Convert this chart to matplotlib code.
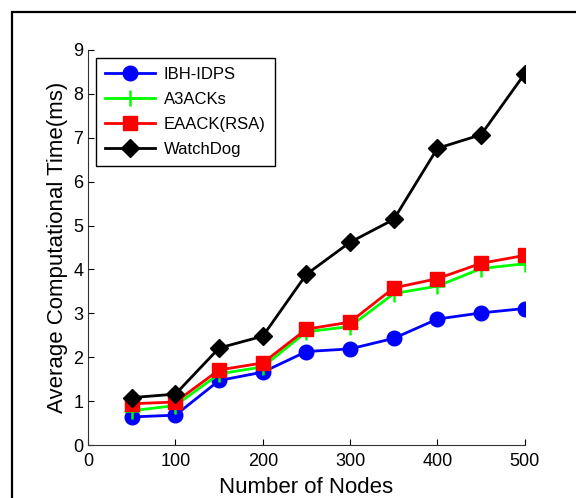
import matplotlib
matplotlib.use("Agg")
import matplotlib.pyplot as plt
from matplotlib.patches import Rectangle

# data
nodes = [50, 100, 150, 200, 250, 300, 350, 400, 450, 500]
ibh_idps = [0.64, 0.68, 1.47, 1.66, 2.13, 2.19, 2.43, 2.87, 3.01, 3.11]
a3acks = [0.78, 0.90, 1.62, 1.78, 2.58, 2.70, 3.45, 3.62, 4.02, 4.13]
eaack_rsa = [0.94, 0.98, 1.71, 1.87, 2.64, 2.80, 3.58, 3.79, 4.14, 4.32]
watchdog = [1.08, 1.16, 2.21, 2.48, 3.89, 4.62, 5.14, 6.76, 7.07, 8.46]

plt.rcParams["font.family"] = ["Liberation Sans", "DejaVu Sans"]

fig = plt.figure(figsize=(5.76, 4.98), dpi=100)
ax = fig.add_axes([0.153, 0.1064, 0.758, 0.7932])

ax.plot(nodes, ibh_idps, color="blue", lw=2, marker="o", ms=10.5, label="IBH-IDPS")
ax.plot(nodes, a3acks, color="#00ff00", lw=2, marker="+", ms=11, mew=1.8, label="A3ACKs")
ax.plot(nodes, eaack_rsa, color="red", lw=2, marker="s", ms=9.5, label="EAACK(RSA)")
ax.plot(nodes, watchdog, color="black", lw=2, marker="D", ms=9.5, label="WatchDog")

ax.set_xlim(0, 500)
ax.set_ylim(0, 9)
ax.set_xticks(range(0, 501, 100))
ax.set_yticks(range(0, 10))
ax.tick_params(direction="in", length=4, width=0.8, labelsize=13, colors="black")
ax.tick_params(axis="x", pad=6)
for s in ["top", "right"]:
    ax.spines[s].set_visible(False)
for s in ["left", "bottom"]:
    ax.spines[s].set_linewidth(0.8)
    ax.spines[s].set_color("#333333")

ax.set_xlabel("Number of Nodes", fontsize=16, labelpad=5)
ax.set_ylabel("Average Computational Time(ms)", fontsize=16, labelpad=4)

leg = ax.legend(loc="upper left", bbox_to_anchor=(0.018, 0.98), fontsize=12,
                fancybox=False, edgecolor="black", handlelength=3.0,
                handletextpad=0.5, borderaxespad=0, borderpad=0.55,
                labelspacing=0.6, framealpha=1)
leg.get_frame().set_linewidth(1.0)

# outer frame, cut off at the right and bottom
fig.add_artist(Rectangle((12 / 576, -0.2), 1.2, 1.2 - 12 / 498,
                         transform=fig.transFigure, fill=False,
                         edgecolor="black", lw=1.6))

fig.savefig("out.png", dpi=100)
